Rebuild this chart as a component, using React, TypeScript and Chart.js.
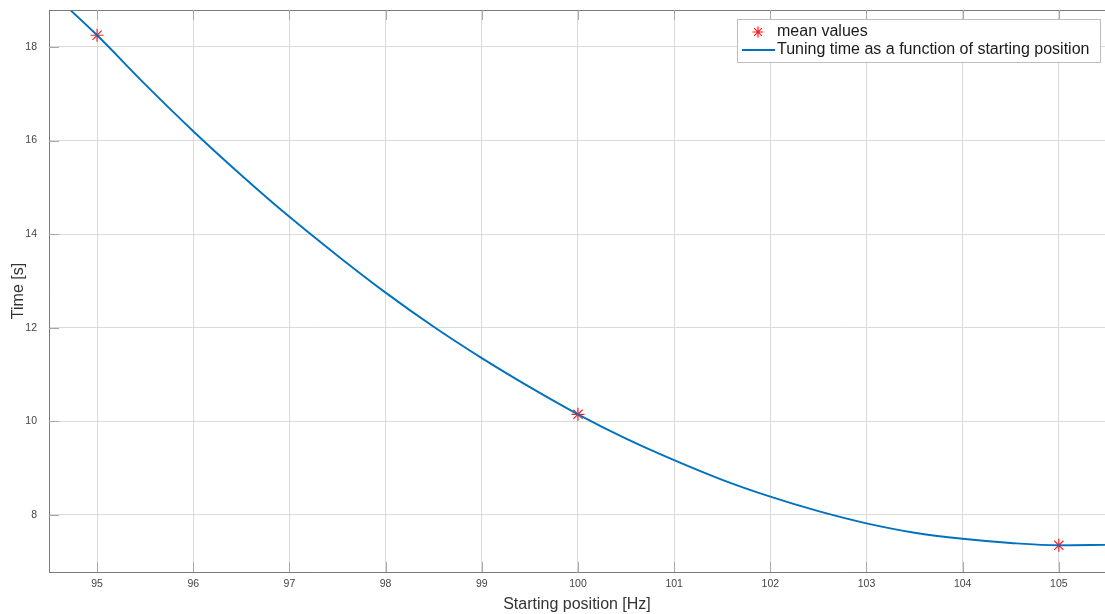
import React, { useEffect, useRef } from "react";
import { Chart, registerables } from "chart.js";

Chart.register(...registerables);

// Mean measured values
const meanX: number[] = [95, 100, 105];
const meanY: number[] = [18.25, 10.15, 7.35];

// Fitted curve
const curveX: number[] = [94.5, 95, 95.5, 96, 96.5, 97, 97.5, 98, 98.5, 99, 99.5, 100, 100.5, 101, 101.5, 102, 102.5, 103, 103.5, 104, 104.5, 105, 105.5];
const curveY: number[] = [19.21, 18.25, 17.2, 16.2, 15.26, 14.37, 13.54, 12.75, 12.02, 11.35, 10.73, 10.15, 9.63, 9.17, 8.75, 8.39, 8.08, 7.82, 7.62, 7.49, 7.4, 7.35, 7.36];

const xTicks: number[] = [95, 96, 97, 98, 99, 100, 101, 102, 103, 104, 105];
const yTicks: number[] = [8, 10, 12, 14, 16, 18];

const seriesLabels: string[] = ["mean values", "Tuning time as a function of starting position"];

const FONT = "'Liberation Sans', Arial, Helvetica, sans-serif";
const LINE_COLOR = "#0072BD";
const STAR_COLOR = "#ff2020";
const AXIS_COLOR = "#7a7a7a";
const GRID_COLOR = "#dadada";

const boxPlugin = {
  id: "matlabBox",
  afterDraw(chart: any) {
    const { ctx, chartArea, scales } = chart;
    const { left, right, top, bottom } = chartArea;
    ctx.save();
    // top border
    ctx.strokeStyle = AXIS_COLOR;
    ctx.lineWidth = 1;
    ctx.beginPath();
    ctx.moveTo(left, top + 0.5);
    ctx.lineTo(right, top + 0.5);
    ctx.stroke();
    // inward tick marks
    ctx.strokeStyle = "#a8a8a8";
    ctx.beginPath();
    for (const v of xTicks) {
      const px = Math.round(scales.x.getPixelForValue(v)) + 0.5;
      ctx.moveTo(px, bottom);
      ctx.lineTo(px, bottom - 10);
      ctx.moveTo(px, top);
      ctx.lineTo(px, top + 10);
    }
    for (const v of yTicks) {
      const py = Math.round(scales.y.getPixelForValue(v)) + 0.5;
      ctx.moveTo(left, py);
      ctx.lineTo(left + 10, py);
    }
    ctx.stroke();

    // legend
    const bx = 737, by = 19, bw = 363, bh = 43;
    ctx.fillStyle = "#ffffff";
    ctx.fillRect(bx, by, bw, bh);
    ctx.strokeStyle = "#bdbdbd";
    ctx.lineWidth = 1;
    ctx.strokeRect(bx + 0.5, by + 0.5, bw, bh);

    const ds = chart.data.datasets;
    ctx.fillStyle = "#1a1a1a";
    ctx.font = `16px ${FONT}`;
    ctx.textBaseline = "middle";
    ctx.textAlign = "left";
    // row 1: star
    const sx = 758, sy = 32, r = 5.5;
    ctx.strokeStyle = STAR_COLOR;
    ctx.lineWidth = 1.2;
    ctx.beginPath();
    ctx.moveTo(sx - r, sy); ctx.lineTo(sx + r, sy);
    ctx.moveTo(sx, sy - r); ctx.lineTo(sx, sy + r);
    const d = r * 0.7071;
    ctx.moveTo(sx - d, sy - d); ctx.lineTo(sx + d, sy + d);
    ctx.moveTo(sx - d, sy + d); ctx.lineTo(sx + d, sy - d);
    ctx.stroke();
    ctx.fillText(ds[0].label, 777, 32);
    // row 2: line
    ctx.strokeStyle = LINE_COLOR;
    ctx.lineWidth = 1.8;
    ctx.beginPath();
    ctx.moveTo(742, 50);
    ctx.lineTo(775, 50);
    ctx.stroke();
    ctx.fillText(ds[1].label, 777, 50);
    ctx.restore();
  },
};

export default function App() {
  const ref = useRef<HTMLCanvasElement | null>(null);

  useEffect(() => {
    if (!ref.current) return;
    const chart = new Chart(ref.current, {
      type: "scatter",
      data: {
        datasets: [
          {
            label: seriesLabels[0],
            data: meanX.map((x, i) => ({ x, y: meanY[i] })),
            showLine: false,
            pointStyle: "star",
            pointRadius: 6.5,
            pointBorderColor: STAR_COLOR,
            pointBackgroundColor: STAR_COLOR,
            pointBorderWidth: 1.2,
            order: 1,
          },
          {
            label: seriesLabels[1],
            data: curveX.map((x, i) => ({ x, y: curveY[i] })),
            showLine: true,
            borderColor: LINE_COLOR,
            borderWidth: 1.9,
            pointRadius: 0,
            cubicInterpolationMode: "monotone",
            order: 0,
          },
        ],
      },
      options: {
        responsive: false,
        animation: false,
        layout: { autoPadding: false, padding: { top: 10, right: 0, left: 0, bottom: 0 } },
        plugins: {
          legend: { display: false },
          tooltip: { enabled: false },
        },
        scales: {
          x: {
            type: "linear",
            min: 94.5,
            max: 105.48,
            afterBuildTicks: (s: any) => { s.ticks = xTicks.map((v) => ({ value: v })); },
            afterFit: (s: any) => { s.height = 42; s.paddingLeft = 0; s.paddingRight = 0; },
            grid: { color: GRID_COLOR, drawTicks: false },
            border: { color: AXIS_COLOR, width: 1 },
            ticks: {
              padding: 6,
              color: "#444444",
              font: { family: FONT, size: 10.5 },
              maxRotation: 0,
              autoSkip: false,
            },
            title: {
              display: true,
              text: "Starting position [Hz]",
              color: "#333333",
              font: { family: FONT, size: 16 },
              padding: { top: 0, bottom: 0 },
            },
          },
          y: {
            type: "linear",
            min: 6.78,
            max: 18.79,
            afterBuildTicks: (s: any) => { s.ticks = yTicks.map((v) => ({ value: v })); },
            afterFit: (s: any) => { s.width = 49; s.paddingTop = 0; s.paddingBottom = 0; },
            grid: { color: GRID_COLOR, drawTicks: false },
            border: { color: AXIS_COLOR, width: 1 },
            ticks: {
              padding: 12,
              color: "#444444",
              font: { family: FONT, size: 10.5 },
              autoSkip: false,
            },
            title: {
              display: true,
              text: "Time [s]",
              color: "#333333",
              font: { family: FONT, size: 16 },
              padding: { top: 9, bottom: 0 },
            },
          },
        },
      },
      plugins: [boxPlugin],
    } as any);
    return () => chart.destroy();
  }, []);

  return (
    <div style={{ position: "absolute", left: 0, top: 0, width: 1105, height: 614, background: "#ffffff" }}>
      <canvas ref={ref} width={1105} height={614} style={{ display: "block", width: 1105, height: 614 }} />
    </div>
  );
}
